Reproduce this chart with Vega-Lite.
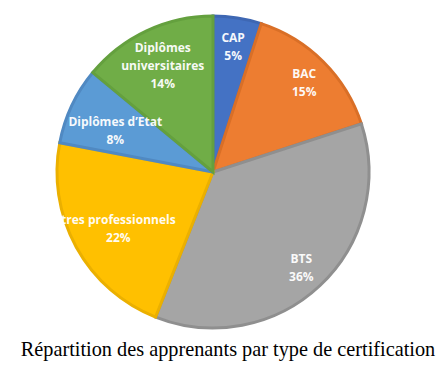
{
  "$schema": "https://vega.github.io/schema/vega-lite/v6.json",
  "width": 316,
  "height": 316,
  "autosize": {"type": "none"},
  "padding": {"left": 55, "top": 14, "right": 74, "bottom": 39},
  "background": "white",
  "view": {"stroke": null},
  "title": {
    "text": "Répartition des apprenants par type de certification",
    "orient": "bottom",
    "anchor": "middle",
    "font": "Liberation Serif",
    "fontSize": 20.3,
    "fontWeight": "normal",
    "color": "#000000",
    "offset": 6,
    "dx": 15
  },
  "data": {
    "values": [
      {"n": 1, "category": "CAP", "pct": 5, "label": "CAP\n5%"},
      {"n": 2, "category": "BAC", "pct": 15, "label": "BAC\n15%"},
      {"n": 3, "category": "BTS", "pct": 36, "label": "BTS\n36%"},
      {"n": 4, "category": "Titres professionnels", "pct": 22, "label": "tres professionnels\n22%"},
      {"n": 5, "category": "Diplômes d’Etat", "pct": 8, "label": "Diplômes d’Etat\n8%"},
      {"n": 6, "category": "Diplômes universitaires", "pct": 14, "label": "Diplômes\nuniversitaires\n14%"}
    ]
  },
  "encoding": {
    "theta": {"field": "pct", "type": "quantitative", "stack": true},
    "order": {"field": "n", "type": "quantitative"}
  },
  "layer": [
    {
      "mark": {"type": "arc", "outerRadius": 156, "strokeWidth": 3},
      "encoding": {
        "color": {
          "field": "category",
          "type": "nominal",
          "legend": null,
          "scale": {
            "domain": ["CAP", "BAC", "BTS", "Titres professionnels", "Diplômes d’Etat", "Diplômes universitaires"],
            "range": ["#4472C4", "#ED7D31", "#A5A5A5", "#FFC000", "#5B9BD5", "#70AD47"]
          }
        },
        "stroke": {
          "field": "category",
          "type": "nominal",
          "legend": null,
          "scale": {
            "domain": ["CAP", "BAC", "BTS", "Titres professionnels", "Diplômes d’Etat", "Diplômes universitaires"],
            "range": ["#3E67B3", "#D96F27", "#8F8F8F", "#EBB000", "#5089C2", "#64A03E"]
          }
        }
      }
    },
    {
      "mark": {
        "type": "text", "radius": 129, "dy": -7,
        "font": "Open Sans", "fontSize": 12, "fontWeight": "bold",
        "lineBreak": "\n", "lineHeight": 18, "color": "#FFFFFF", "opacity": 0.95
      },
      "encoding": {"text": {"condition": {"test": "datum.n <= 3", "field": "label", "type": "nominal"}, "value": ""}}
    },
    {
      "mark": {
        "type": "text", "radius": 108, "dy": -4,
        "font": "Open Sans", "fontSize": 12, "fontWeight": "bold",
        "lineBreak": "\n", "lineHeight": 18, "color": "#FFFFFF", "opacity": 0.95
      },
      "encoding": {"text": {"condition": {"test": "datum.n == 4 || datum.n == 5", "field": "label", "type": "nominal"}, "value": ""}}
    },
    {
      "mark": {
        "type": "text", "radius": 118, "dy": -17,
        "font": "Open Sans", "fontSize": 12, "fontWeight": "bold",
        "lineBreak": "\n", "lineHeight": 18, "color": "#FFFFFF", "opacity": 0.95
      },
      "encoding": {"text": {"condition": {"test": "datum.n == 6", "field": "label", "type": "nominal"}, "value": ""}}
    }
  ]
}
